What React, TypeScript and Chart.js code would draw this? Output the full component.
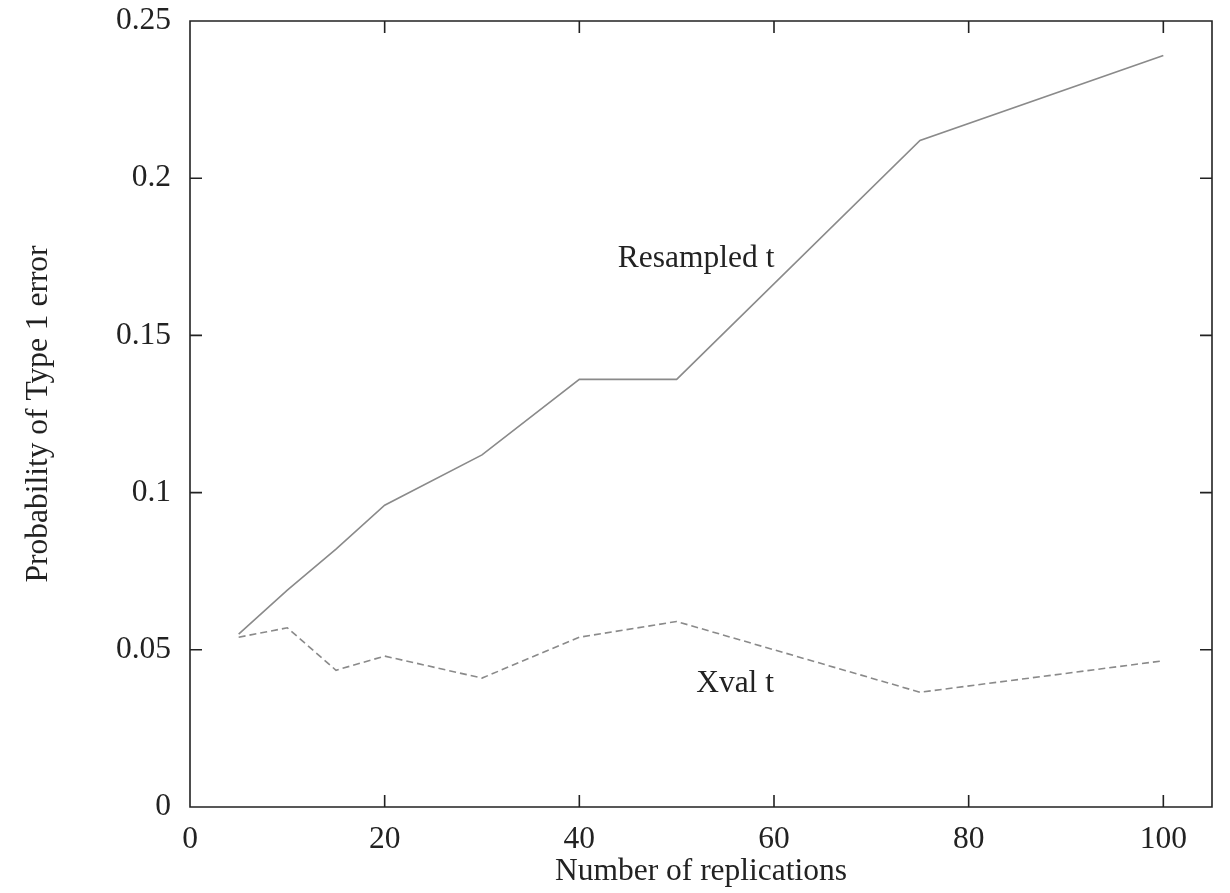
import React, { useEffect, useRef } from "react";
import { Chart, registerables } from "chart.js";

Chart.register(...registerables);

const replications = [5, 10, 15, 20, 30, 40, 50, 75, 100];
const resampledT = [0.055, 0.069, 0.082, 0.096, 0.112, 0.136, 0.136, 0.212, 0.239];
const xvalT = [0.054, 0.057, 0.0435, 0.048, 0.041, 0.054, 0.059, 0.0365, 0.0465];
const xTickValues = [0, 20, 40, 60, 80, 100];
const yTickValues = [0, 0.05, 0.1, 0.15, 0.2, 0.25];
const yTickLabels = ["0", "0.05", "0.1", "0.15", "0.2", "0.25"];
const seriesLabels = ["Resampled t", "Xval t"];
const curveLabelAnchors = [
  { text: "Resampled t", x: 52, y: 0.1745 },
  { text: "Xval t", x: 56, y: 0.0393 },
];

const FONT = "'Liberation Serif', 'DejaVu Serif', serif";
const FONT_SIZE = 31.5;
const INK = "#222222";

const framePlugin = {
  id: "gnuplotFrame",
  afterDatasetsDraw(chart: any) {
    const { ctx, chartArea } = chart;
    const { left, right, top, bottom } = chartArea;
    const xs = chart.scales.x;
    const ys = chart.scales.y;
    const tick = 12;
    ctx.save();
    ctx.strokeStyle = INK;
    ctx.lineWidth = 1.6;
    ctx.beginPath();
    ctx.rect(left, top, right - left, bottom - top);
    for (const v of xTickValues) {
      const px = xs.getPixelForValue(v);
      ctx.moveTo(px, bottom);
      ctx.lineTo(px, bottom - tick);
      ctx.moveTo(px, top);
      ctx.lineTo(px, top + tick);
    }
    for (const v of yTickValues) {
      const py = ys.getPixelForValue(v);
      ctx.moveTo(left, py);
      ctx.lineTo(left + tick, py);
      ctx.moveTo(right, py);
      ctx.lineTo(right - tick, py);
    }
    ctx.stroke();
    ctx.fillStyle = INK;
    ctx.font = `${FONT_SIZE}px ${FONT}`;
    ctx.textAlign = "center";
    ctx.textBaseline = "middle";
    for (const a of curveLabelAnchors) {
      ctx.fillText(a.text, xs.getPixelForValue(a.x), ys.getPixelForValue(a.y));
    }
    ctx.restore();
  },
};

export default function App() {
  const ref = useRef<HTMLCanvasElement | null>(null);
  useEffect(() => {
    if (!ref.current) return;
    const chart = new Chart(ref.current, {
      type: "line",
      data: {
        datasets: [
          {
            label: seriesLabels[0],
            data: replications.map((x, i) => ({ x, y: resampledT[i] })),
            borderColor: "#8a8a8a",
            borderWidth: 1.6,
            pointRadius: 0,
            tension: 0,
            fill: false,
          },
          {
            label: seriesLabels[1],
            data: replications.map((x, i) => ({ x, y: xvalT[i] })),
            borderColor: "#8a8a8a",
            borderWidth: 1.6,
            borderDash: [7, 4],
            pointRadius: 0,
            tension: 0,
            fill: false,
          },
        ],
      },
      options: {
        animation: false,
        responsive: true,
        maintainAspectRatio: false,
        layout: { padding: { left: 0, right: 18, top: 21, bottom: 0 } },
        plugins: { legend: { display: false }, tooltip: { enabled: false } },
        scales: {
          x: {
            type: "linear",
            min: 0,
            max: 105,
            afterBuildTicks: (s: any) => {
              s.ticks = xTickValues.map((v) => ({ value: v }));
            },
            afterFit: (s: any) => {
              s.height = 86;
              s.paddingLeft = 0;
              s.paddingRight = 0;
            },
            grid: { display: false, drawTicks: false },
            border: { display: false },
            ticks: {
              color: INK,
              padding: 14,
              maxRotation: 0,
              autoSkip: false,
              font: { family: FONT, size: FONT_SIZE },
              callback: (v: any) => String(v),
            },
            title: {
              display: true,
              text: "Number of replications",
              color: INK,
              font: { family: FONT, size: FONT_SIZE },
              padding: { top: 0, bottom: 2 },
            },
          },
          y: {
            type: "linear",
            min: 0,
            max: 0.25,
            afterBuildTicks: (s: any) => {
              s.ticks = yTickValues.map((v) => ({ value: v }));
            },
            afterFit: (s: any) => {
              s.width = 190;
              s.paddingTop = 0;
              s.paddingBottom = 0;
            },
            grid: { display: false, drawTicks: false },
            border: { display: false },
            ticks: {
              color: INK,
              padding: 19,
              autoSkip: false,
              font: { family: FONT, size: FONT_SIZE },
              callback: (v: any) => {
                const i = yTickValues.findIndex((t) => Math.abs(t - v) < 1e-9);
                return i >= 0 ? yTickLabels[i] : "";
              },
            },
            title: {
              display: true,
              text: "Probability of Type 1 error",
              color: INK,
              font: { family: FONT, size: FONT_SIZE },
              padding: { top: 20, bottom: 0 },
            },
          },
        },
      },
      plugins: [framePlugin],
    });
    return () => chart.destroy();
  }, []);
  return (
    <div style={{ position: "fixed", left: 0, top: 0, width: 1230, height: 893, background: "#fff" }}>
      <canvas ref={ref} />
    </div>
  );
}
